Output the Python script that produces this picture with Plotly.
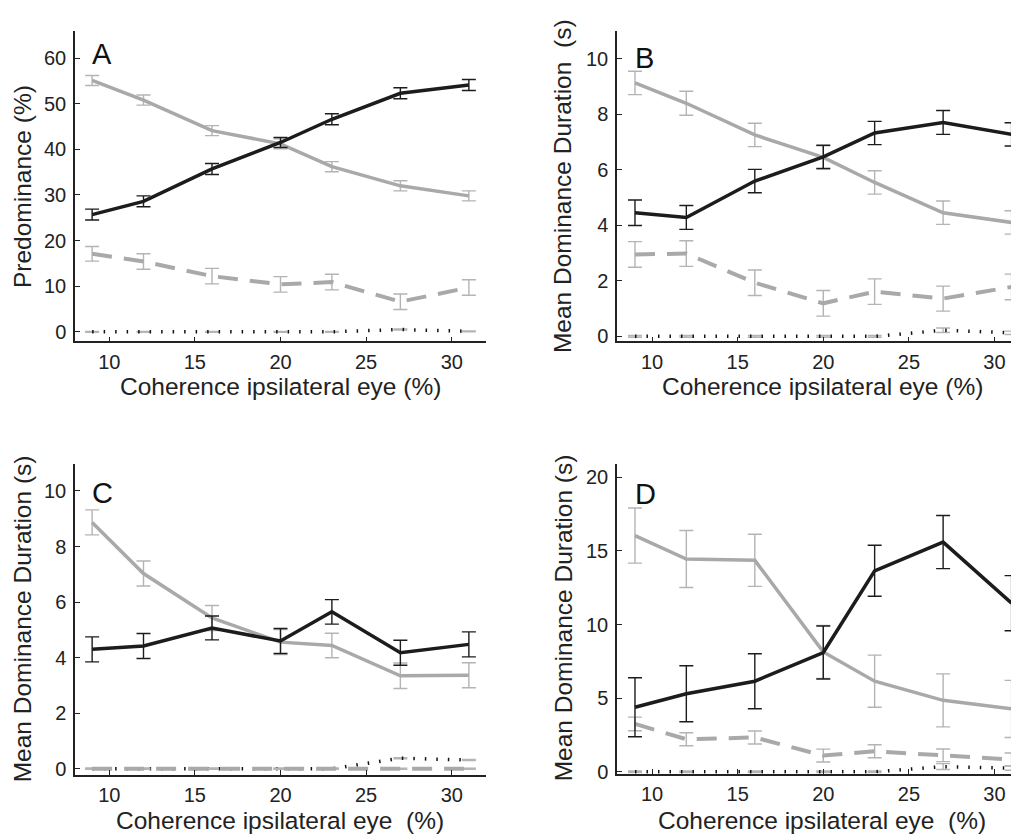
import plotly.graph_objects as go

W, H = 1019, 837
# page offset of the plot inside the browser window (body margin), in px
OFF_X = 8
OFF_Y = 2

coherence = [9, 12, 16, 20, 23, 27, 31]
x_ticks = [10, 15, 20, 25, 30]

# Panel A - predominance (%)
a_black = [25.7, 28.6, 35.7, 41.5, 46.6, 52.3, 54.1]
a_black_err = [1.2, 1.2, 1.2, 1.1, 1.2, 1.2, 1.2]
a_gray = [55.1, 50.8, 44.1, 41.2, 36.2, 32.0, 29.8]
a_gray_err = [1.1, 1.1, 1.1, 1.1, 1.1, 1.1, 1.1]
a_dash = [17.1, 15.4, 12.2, 10.4, 10.9, 6.6, 9.7]
a_dash_err = [1.6, 1.7, 1.7, 1.7, 1.7, 1.7, 1.7]
a_dot = [0.0, 0.0, 0.0, 0.0, 0.0, 0.5, 0.1]
a_dot_err = [0.1, 0.1, 0.1, 0.1, 0.1, 0.1, 0.1]

# Panel B - mean dominance duration (s)
b_black = [4.45, 4.28, 5.59, 6.46, 7.32, 7.70, 7.27]
b_black_err = [0.46, 0.43, 0.42, 0.42, 0.42, 0.43, 0.42]
b_gray = [9.12, 8.39, 7.25, 6.44, 5.54, 4.45, 4.10]
b_gray_err = [0.42, 0.43, 0.42, 0.42, 0.42, 0.42, 0.42]
b_dash = [2.95, 2.98, 1.93, 1.19, 1.61, 1.36, 1.78]
b_dash_err = [0.46, 0.46, 0.46, 0.46, 0.46, 0.45, 0.46]
b_dot = [0.0, 0.0, 0.0, 0.0, 0.0, 0.22, 0.13]
b_dot_err = [0.03, 0.03, 0.03, 0.03, 0.03, 0.08, 0.06]

# Panel C
c_black = [4.30, 4.42, 5.07, 4.60, 5.65, 4.18, 4.48]
c_black_err = [0.45, 0.45, 0.43, 0.45, 0.44, 0.45, 0.45]
c_gray = [8.87, 7.03, 5.43, 4.56, 4.44, 3.35, 3.37]
c_gray_err = [0.45, 0.45, 0.45, 0.45, 0.44, 0.46, 0.45]
c_dash = [0.0, 0.0, 0.0, 0.0, 0.0, 0.0, 0.0]
c_dash_err = [0.02, 0.02, 0.02, 0.02, 0.02, 0.02, 0.02]
c_dot = [0.0, 0.0, 0.0, 0.0, 0.0, 0.38, 0.32]
c_dot_err = [0.02, 0.02, 0.02, 0.02, 0.02, 0.02, 0.02]

# Panel D
d_black = [4.38, 5.30, 6.15, 8.10, 13.65, 15.6, 11.45]
d_black_err = [2.0, 1.9, 1.87, 1.8, 1.73, 1.8, 1.87]
d_gray = [16.04, 14.45, 14.36, 8.14, 6.15, 4.85, 4.27]
d_gray_err = [1.87, 1.94, 1.77, 1.8, 1.77, 1.8, 1.94]
d_dash = [3.25, 2.21, 2.33, 1.10, 1.39, 1.12, 0.83]
d_dash_err = [0.46, 0.44, 0.44, 0.44, 0.44, 0.43, 0.44]
d_dot = [0.0, 0.0, 0.0, 0.0, 0.0, 0.35, 0.25]
d_dot_err = [0.05, 0.05, 0.05, 0.05, 0.05, 0.2, 0.15]

BLACK = "#1c1c1c"
GRAY = "#a9a9a9"
GRAY_ERR = "#b4b4b4"
FONT = "Liberation Sans, Arial, Helvetica, sans-serif"

# panel boxes in window pixels: left, right, top, bottom
panels = [
    dict(name="A", px=(75, 486, 25, 339), xr=[8, 32], yr=[-2.1, 66], yt=[0, 10, 20, 30, 40, 50, 60],
         data=(a_black, a_black_err, a_gray, a_gray_err, a_dash, a_dash_err, a_dot, a_dot_err),
         ytitle="Predominance (%)", ytpos=(22, 183), xtitle="Coherence ipsilateral eye (%)", xtpos=(280, 385),
         letter=(102, 49)),
    dict(name="B", px=(617, 1027, 25, 339), xr=[7.95, 31.9], yr=[-0.18, 11], yt=[0, 2, 4, 6, 8, 10],
         data=(b_black, b_black_err, b_gray, b_gray_err, b_dash, b_dash_err, b_dot, b_dot_err),
         ytitle="Mean Dominance Duration  (s)", ytpos=(562, 182), xtitle="Coherence ipsilateral eye (%)", xtpos=(822, 385),
         letter=(644, 53)),
    dict(name="C", px=(75, 486, 463, 777), xr=[8, 32], yr=[-0.21, 10.97], yt=[0, 2, 4, 6, 8, 10],
         data=(c_black, c_black_err, c_gray, c_gray_err, c_dash, c_dash_err, c_dot, c_dot_err),
         ytitle="Mean Dominance Duration (s)", ytpos=(22, 620), xtitle="Coherence ipsilateral eye  (%)", xtpos=(280, 823),
         letter=(102, 492)),
    dict(name="D", px=(617, 1027, 463, 776), xr=[7.95, 31.9], yr=[-0.13, 20.9], yt=[0, 5, 10, 15, 20],
         data=(d_black, d_black_err, d_gray, d_gray_err, d_dash, d_dash_err, d_dot, d_dot_err),
         ytitle="Mean Dominance Duration (s)", ytpos=(563, 619), xtitle="Coherence ipsilateral eye  (%)", xtpos=(822, 823),
         letter=(645, 493)),
]


def fx(px):
    return min(1.0, (px - OFF_X) / W)


def fy(py):
    return 1 - (py - OFF_Y) / H


fig = go.Figure()
annotations = []

for i, p in enumerate(panels):
    n = "" if i == 0 else str(i + 1)
    xa, ya = "x" + n, "y" + n
    blk, blk_e, gry, gry_e, dsh, dsh_e, dot, dot_e = p["data"]

    def err(vals, color):
        return dict(type="data", array=vals, visible=True, color=color, thickness=1.4, width=7)

    # dotted near-zero series
    fig.add_trace(go.Scatter(x=coherence, y=dot, xaxis=xa, yaxis=ya, mode="lines",
                             line=dict(color="#111111", width=3.5, dash="1.5px,10px"),
                             error_y=err(dot_e, GRAY_ERR), showlegend=False))
    # dashed gray series
    fig.add_trace(go.Scatter(x=coherence, y=dsh, xaxis=xa, yaxis=ya, mode="lines",
                             line=dict(color=GRAY, width=4, dash="20px,12px"),
                             error_y=err(dsh_e, GRAY_ERR), showlegend=False))
    # gray solid
    fig.add_trace(go.Scatter(x=coherence, y=gry, xaxis=xa, yaxis=ya, mode="lines",
                             line=dict(color=GRAY, width=3.5),
                             error_y=err(gry_e, GRAY_ERR), showlegend=False))
    # black solid
    fig.add_trace(go.Scatter(x=coherence, y=blk, xaxis=xa, yaxis=ya, mode="lines",
                             line=dict(color=BLACK, width=3.5),
                             error_y=err(blk_e, BLACK), showlegend=False))

    l, r, t, b = p["px"]
    axis_common = dict(showgrid=False, zeroline=False, showline=True, linecolor="#222222", linewidth=1.5,
                       ticks="inside", ticklen=5, tickwidth=1.3, tickcolor="#222222",
                       tickfont=dict(family=FONT, size=20, color="#222222"), fixedrange=True)
    fig.update_layout({
        ("xaxis" + n): dict(domain=[fx(l), fx(r)], range=p["xr"], tickvals=x_ticks, anchor=ya,
                            ticklabelstandoff=2, **axis_common),
        ("yaxis" + n): dict(domain=[fy(b), fy(t)], range=p["yr"], tickvals=p["yt"], anchor=xa,
                            ticklabelstandoff=3, **axis_common),
    })

    annotations.append(dict(text=p["ytitle"], x=fx(p["ytpos"][0]), y=fy(p["ytpos"][1]), xref="paper", yref="paper",
                            textangle=-90, showarrow=False, xanchor="center", yanchor="middle",
                            font=dict(family=FONT, size=24.5, color="#222222")))
    annotations.append(dict(text=p["xtitle"], x=fx(p["xtpos"][0]), y=fy(p["xtpos"][1]), xref="paper", yref="paper",
                            showarrow=False, xanchor="center", yanchor="middle",
                            font=dict(family=FONT, size=24.5, color="#222222")))
    annotations.append(dict(text=p["name"], x=fx(p["letter"][0]), y=fy(p["letter"][1]), xref="paper", yref="paper",
                            showarrow=False, xanchor="center", yanchor="middle",
                            font=dict(family=FONT, size=29, color="#111111")))

fig.update_layout(
    width=W, height=H,
    margin=dict(l=0, r=0, t=0, b=0),
    paper_bgcolor="white", plot_bgcolor="white",
    showlegend=False,
    annotations=annotations,
)

fig.write_html("out.html", config={"displayModeBar": False})
